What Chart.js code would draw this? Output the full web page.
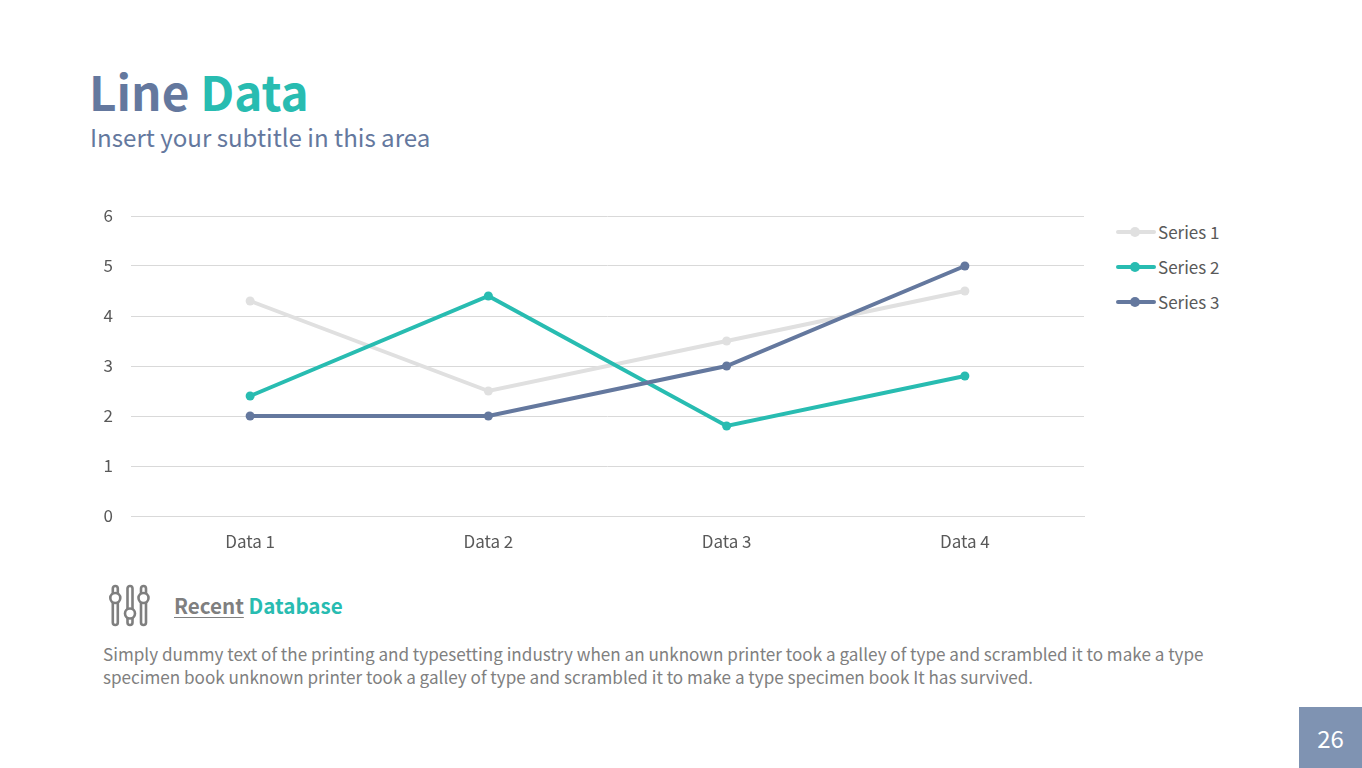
<!DOCTYPE html>
<html>
<head>
<meta charset="utf-8">
<title>Line Data</title>
<script src="https://cdn.jsdelivr.net/npm/chart.js@4/dist/chart.umd.min.js"></script>
<style>
  html, body { margin: 0; padding: 0; background: #fff; }
  body { position: relative; width: 1362px; height: 768px; overflow: hidden; font-family: "Noto Sans CJK SC", "Noto Sans", sans-serif; }
  .abs { position: absolute; white-space: nowrap; }
  #title { left: 89px; top: 57px; font-size: 47.7px; line-height: 68px; font-weight: 700; color: #64789e; }
  #title span, #recent span { color: #28bcb1; }
  #subtitle { left: 90px; top: 119px; font-size: 24.1px; line-height: 36px; color: #64789e; }
  #wrap { position: absolute; left: 0; top: 190px; width: 1100px; height: 370px; }
  .legend-row { position: absolute; left: 1116px; height: 24px; width: 120px; font-size: 17px; line-height: 24px; color: #595959; }
  .legend-row i { position: absolute; left: 0; top: 10px; width: 40px; height: 4px; border-radius: 2px; }
  .legend-row b { position: absolute; left: 14px; top: 7px; width: 10px; height: 10px; border-radius: 50%; }
  .legend-row span { position: absolute; left: 42px; top: 0; }
  #recent { left: 174px; top: 589px; font-size: 20.6px; line-height: 32px; font-weight: 700; color: #7f7f7f; }
  #recent u { text-underline-offset: 3px; text-decoration-thickness: 1px; }
  .body-text { left: 103px; font-size: 17.1px; line-height: 23px; color: #808080; }
  #page { position: absolute; left: 1299px; top: 707px; width: 63px; height: 61px; background: #7f93b2; color: #fff; font-size: 24px; line-height: 61px; text-align: center; }
</style>
</head>
<body>
<div class="abs" id="title">Line <span>Data</span></div>
<div class="abs" id="subtitle">Insert your subtitle in this area</div>

<div id="wrap"><canvas id="lineChart"></canvas></div>
<div id="legend"></div>

<svg class="abs" style="left:106px;top:582px" width="48" height="48" viewBox="0 0 48 48" fill="none" stroke="#7f7f7f" stroke-width="2.6">
  <rect x="6.8" y="4" width="5" height="39" rx="2.5" fill="#fff"/>
  <circle cx="9.3" cy="16" r="5" fill="#fff"/>
  <rect x="21.5" y="4" width="5" height="39" rx="2.5" fill="#fff"/>
  <circle cx="24" cy="31.5" r="5" fill="#fff"/>
  <rect x="35" y="4" width="5" height="39" rx="2.5" fill="#fff"/>
  <circle cx="37.5" cy="16" r="5" fill="#fff"/>
</svg>
<div class="abs" id="recent"><u>Recent</u> <span>Database</span></div>
<div class="abs body-text" style="top:642px">Simply dummy text of the printing and typesetting industry when an unknown printer took a galley of type and scrambled it to make a type</div>
<div class="abs body-text" style="top:665px">specimen book unknown printer took a galley of type and scrambled it to make a type specimen book It has survived.</div>
<div id="page">26</div>

<script>
const categories = ['Data 1', 'Data 2', 'Data 3', 'Data 4'];
const seriesNames = ['Series 1', 'Series 2', 'Series 3'];
const series1 = [4.3, 2.5, 3.5, 4.5];
const series2 = [2.4, 4.4, 1.8, 2.8];
const series3 = [2, 2, 3, 5];
const seriesColors = ['#e0e0e0', '#28bcb1', '#64789e'];
const yTicks = [0, 1, 2, 3, 4, 5, 6];

const FONT = '"Noto Sans CJK SC", "Noto Sans", sans-serif';
const TEXT = '#595959';

function makeSet(i, values) {
  return {
    label: seriesNames[i],
    data: values,
    borderColor: seriesColors[i],
    backgroundColor: seriesColors[i],
    borderWidth: 4,
    pointRadius: 4.5,
    pointBorderWidth: 0,
    tension: 0,
    fill: false,
    order: 3 - i
  };
}

// legend has a dot sitting on the line, so it's plain html
const legendEl = document.getElementById('legend');
seriesNames.forEach((name, i) => {
  const top = 220 + i * 35;
  legendEl.innerHTML += `<div class="legend-row" style="top:${top}px"><i style="background:${seriesColors[i]}"></i><b style="background:${seriesColors[i]}"></b><span>${name}</span></div>`;
});

new Chart(document.getElementById('lineChart'), {
  type: 'line',
  data: {
    labels: categories,
    datasets: [makeSet(0, series1), makeSet(1, series2), makeSet(2, series3)]
  },
  options: {
    responsive: true,
    maintainAspectRatio: false,
    animation: false,
    layout: { autoPadding: false, padding: { top: 26, right: 16, left: 0, bottom: 0 } },
    plugins: { legend: { display: false }, tooltip: { enabled: false } },
    scales: {
      x: {
        offset: true,
        grid: { display: false },
        border: { color: '#d9d9d9' },
        ticks: { color: TEXT, font: { family: FONT, size: 17 }, padding: 7 },
        afterFit: s => { s.height = 44; s.paddingLeft = 0; s.paddingRight = 0; }
      },
      y: {
        min: 0,
        max: 6,
        afterBuildTicks: s => { s.ticks = yTicks.map(v => ({ value: v })); },
        grid: { color: '#d9d9d9', drawTicks: false },
        border: { display: false },
        ticks: { color: TEXT, font: { family: FONT, size: 17 }, padding: 18 },
        // labels stick out past the plot; keep the plot box exact anyway
        afterFit: s => { s.width = 131; s.paddingTop = 0; s.paddingBottom = 0; }
      }
    }
  }
});
</script>
</body>
</html>
